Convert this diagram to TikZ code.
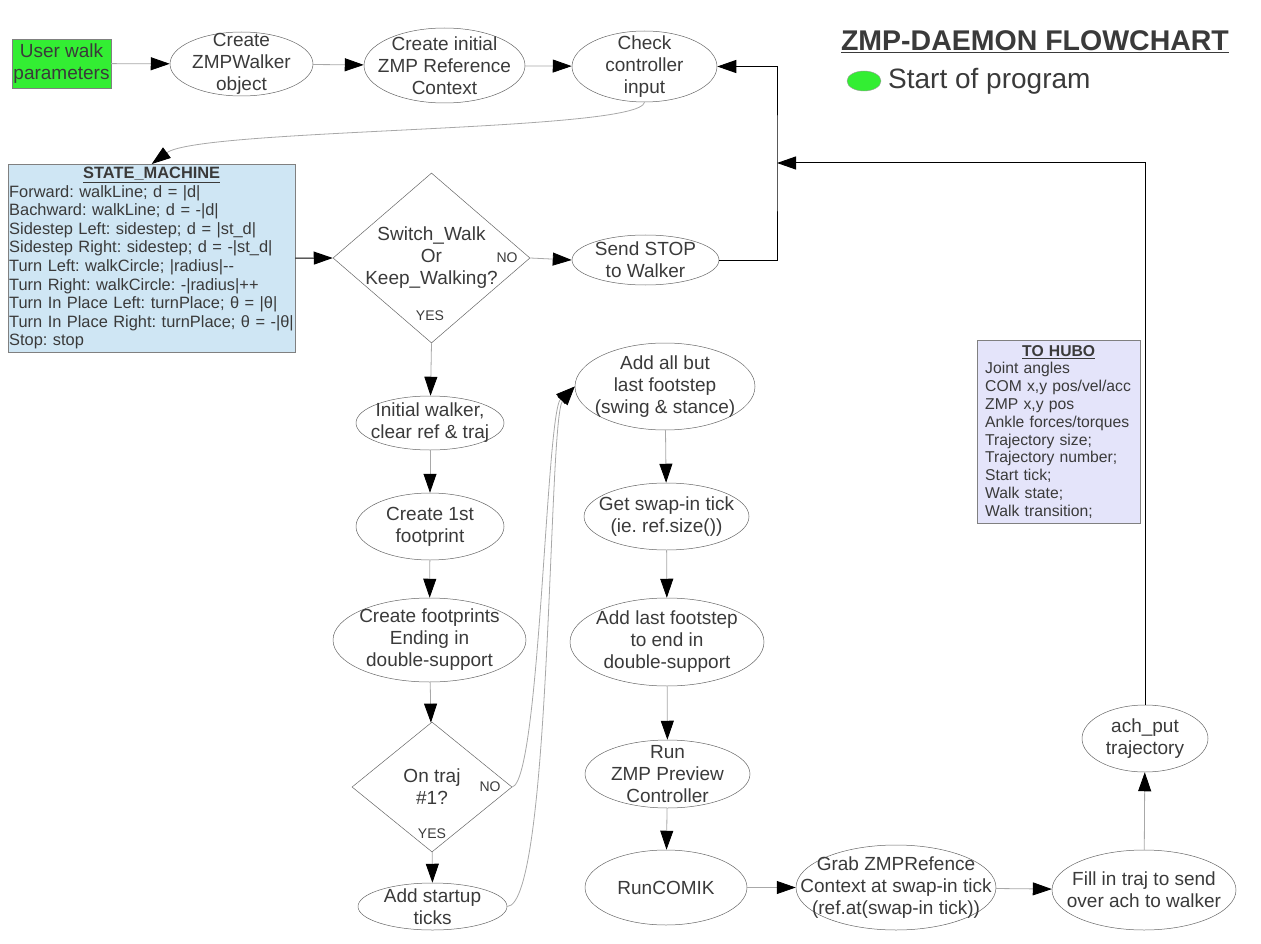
\documentclass[tikz,border=0pt]{standalone}
\usepackage{fontspec}
\setmainfont{Liberation Sans}
\usepackage{tikz}
\usetikzlibrary{shapes.geometric}
\usetikzlibrary{arrows.meta}
\definecolor{startgreen}{HTML}{33EE33}
\definecolor{smblue}{HTML}{CFE6F4}
\definecolor{hubolav}{HTML}{E4E4FA}
\definecolor{inkgray}{HTML}{3A3A3A}
\definecolor{edgegray}{HTML}{A8A8A8}
\frenchspacing

\begin{document}
\begin{tikzpicture}[x=1pt,y=-1pt,
txt/.style={text=inkgray, align=center, font=\fontsize{19}{22}\selectfont},
yesno/.style={text=inkgray, inner sep=0pt, font=\fontsize{14}{16}\selectfont},
oval/.style 2 args={ellipse, draw=black!60, line width=0.5pt, inner sep=0pt,
  minimum width=#1pt, minimum height=#2pt},
decision/.style 2 args={diamond, draw=black!60, line width=0.5pt, inner sep=0pt,
  minimum width=#1pt, minimum height=#2pt},
flow/.style={draw=edgegray, line width=0.8pt, -{Triangle[length=19pt,width=13pt,black]}},
flowdark/.style={flow, draw=black, line width=1pt}]

\useasboundingbox (0,0) rectangle (1261,944);

% title and legend
\node[text=inkgray, font=\fontsize{28.5}{32}\selectfont\bfseries] (title) at (1035,42)
{\underline{ZMP-DAEMON FLOWCHART}};
\node[ellipse, draw=black!40, fill=startgreen, minimum width=34pt, minimum height=20pt,
inner sep=0pt] (legend) at (864,81) {};
\node[text=inkgray, anchor=west, inner sep=0pt, font=\fontsize{28}{32}\selectfont]
(legendtxt) at (888,81) {Start of program};

% top row
\node[draw=black!50, fill=startgreen, minimum width=99pt, minimum height=49pt,
inner sep=0pt, txt] (user) at (61.5,63.5) {User walk\\parameters};
\node[oval={143}{64}, label={[txt]center:{Create\\ZMPWalker\\object}}] (walker) at (241.5,64) {};
\node[oval={161}{75}, label={[txt]center:{Create initial\\ZMP Reference\\Context}}] (refctx) at (444.5,65.5) {};
\node[oval={145}{71}, label={[txt]center:{Check\\controller\\input}}] (check) at (644.5,66.5) {};

% state machine
\node[draw=black!50, fill=smblue, text=inkgray, anchor=north west, text width=285pt,
minimum height=188pt, inner xsep=1pt, inner ysep=1.5pt, align=left,
font=\fontsize{16.4}{18.55}\selectfont] (machine) at (8,164)
{\makebox[285pt]{\underline{\textbf{STATE\_MACHINE}}}\\
Forward: walkLine; d = |d|\\
Bachward: walkLine; d = -|d|\\
Sidestep Left: sidestep; d = |st\_d|\\
Sidestep Right: sidestep; d = -|st\_d|\\
Turn Left: walkCircle; |radius|-{}-\\
Turn Right: walkCircle: -|radius|++\\
Turn In Place Left: turnPlace; θ = |θ|\\
Turn In Place Right: turnPlace; θ = -|θ|\\
Stop: stop};

\node[decision={197}{170}, label={[txt]center:{Switch\_Walk\\Or\\Keep\_Walking?}}] (switch) at (431.5,258) {};
\node[yesno] (swno) at (507,258) {NO};
\node[yesno] (swyes) at (430,316) {YES};
\node[oval={147}{50}, label={[txt]center:{Send STOP\\to Walker}}] (sendstop) at (645.5,260) {};

% left column
\node[oval={148}{54}, label={[txt]center:{Initial walker,\\clear ref \& traj}}] (initwalker) at (430,423) {};
\node[oval={148}{67}, label={[txt]center:{Create 1st\\footprint}}] (firstfp) at (430,526.5) {};
\node[oval={193}{84}, label={[txt]center:{Create footprints\\Ending in\\double-support}}] (footprints) at (429.5,640) {};
\node[decision={160}{130}, label={[txt]center:{On traj\\\#1?}}] (ontraj) at (432,787) {};
\node[yesno] (otno) at (490,787) {NO};
\node[yesno] (otyes) at (432,834) {YES};
\node[oval={149}{47}, label={[txt]center:{Add startup\\ticks}}] (startup) at (432.5,906.5) {};

% middle column
\node[oval={180}{87}, label={[txt]center:{Add all but\\last footstep\\(swing \& stance)}}] (addbut) at (665,386.5) {};
\node[oval={165}{67}, label={[txt]center:{Get swap-in tick\\(ie. ref.size())}}] (swapin) at (666.5,516.5) {};
\node[oval={194}{88}, label={[txt]center:{Add last footstep\\to end in\\double-support}}] (addlast) at (667,642) {};
\node[oval={165}{68}, label={[txt]center:{Run\\ZMP Preview\\Controller}}] (preview) at (667.5,774) {};
\node[oval={162}{75}, label={[txt]center:{RunCOMIK}}] (comik) at (666,887.5) {};

% bottom row and right side
\node[oval={200}{85}, label={[txt]center:{Grab ZMPRefence\\Context at swap-in tick\\(ref.at(swap-in tick))}}] (grab) at (896,887.5) {};
\node[oval={184}{80}, label={[txt]center:{Fill in traj to send\\over ach to walker}}] (fill) at (1144,890) {};
\node[oval={126}{67}, label={[txt]center:{ach\_put\\trajectory}}] (achput) at (1145,738.5) {};

\node[draw=black!50, fill=hubolav, text=inkgray, anchor=north west, text width=147pt,
minimum height=183pt, inner xsep=8pt, inner ysep=3pt, align=left,
font=\fontsize{15.7}{17.78}\selectfont] (hubo) at (977,340)
{\makebox[147pt]{\underline{\textbf{TO HUBO}}}\\
Joint angles\\
COM x,y pos/vel/acc\\
ZMP x,y pos\\
Ankle forces/torques\\
Trajectory size;\\
Trajectory number;\\
Start tick;\\
Walk state;\\
Walk transition;};

\coordinate (junction) at (777,163);

% connectors
\draw[flow] (user) -- (walker);
\draw[flow] (walker) -- (refctx);
\draw[flow] (refctx) -- (check);
\draw[flow] (check.south) .. controls (640,132) and (200,128) .. (machine.north);
\draw[flowdark] (machine.east) -- (switch.west);
\draw[flow] (switch.east) -- (sendstop.west);
\draw[flowdark] (sendstop.east) -| (junction) |- (check.east);
\draw[flowdark] (achput.north) |- (junction);

\draw[flow] (switch.south) -- (initwalker);
\draw[flow] (initwalker) -- (firstfp);
\draw[flow] (firstfp) -- (footprints);
\draw[flow] (footprints) -- (ontraj);
\draw[flow] (ontraj) -- (startup);
\draw[flow] (ontraj.east) .. controls (540,780) and (546,412) .. (addbut.west);
\draw[flow] (startup.east) .. controls (552,905) and (548,418) .. (addbut.west);

\draw[flow] (addbut) -- (swapin);
\draw[flow] (swapin) -- (addlast);
\draw[flow] (addlast) -- (preview);
\draw[flow] (preview) -- (comik);
\draw[flow] (comik) -- (grab);
\draw[flow] (grab) -- (fill);
\draw[flow] (fill) -- (achput);

\end{tikzpicture}
\end{document}
